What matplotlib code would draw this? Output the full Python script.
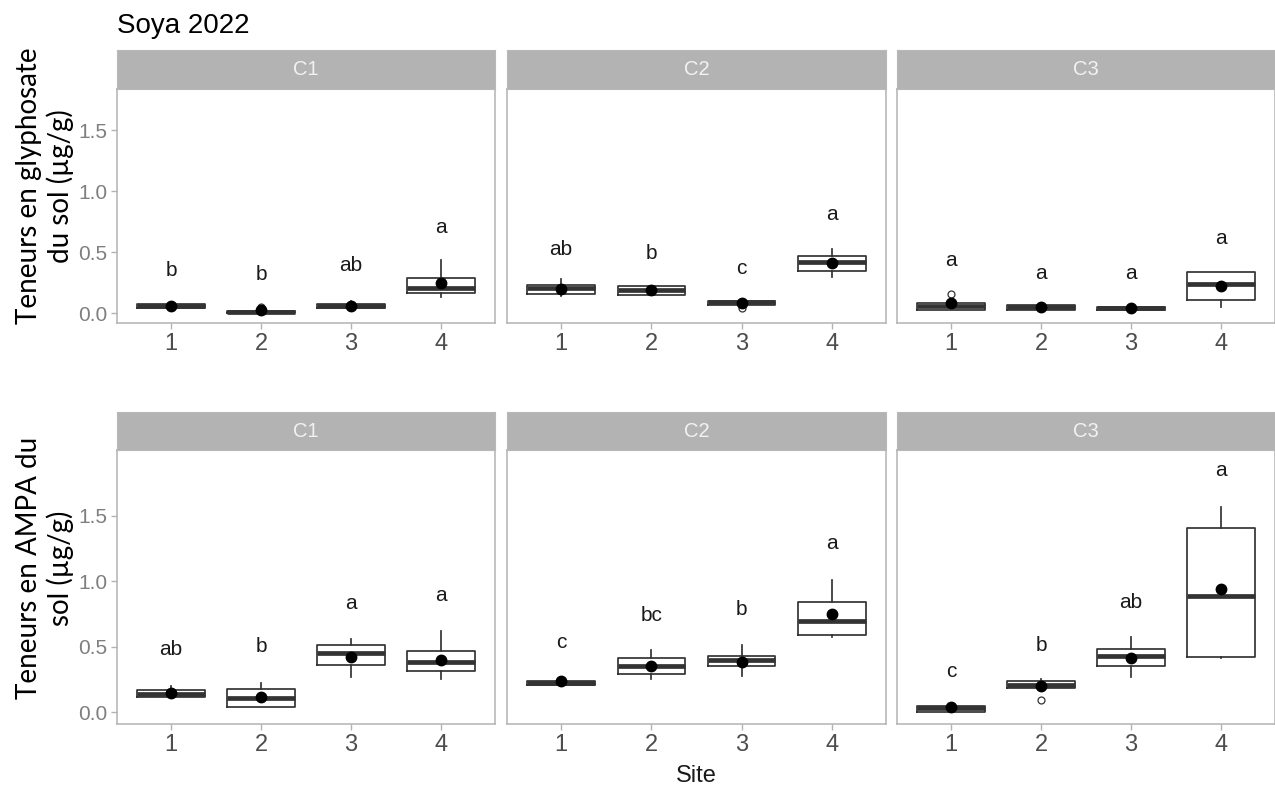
#!/usr/bin/env python3
"""Boxplots glyphosate / AMPA par site et parcelle (Soya 2022)."""
import matplotlib
matplotlib.use("Agg")
import matplotlib.pyplot as plt

plt.rcParams["font.family"] = ["Liberation Sans", "DejaVu Sans"]

sites = [1, 2, 3, 4]
panels = ["C1", "C2", "C3"]

# --- glyphosate (rangée du haut), une liste par parcelle ---
gly_q1   = [[0.04, 0.00, 0.04, 0.17], [0.16, 0.15, 0.07, 0.35], [0.03, 0.025, 0.025, 0.11]]
gly_med  = [[0.06, 0.01, 0.06, 0.21], [0.21, 0.19, 0.09, 0.42], [0.06, 0.05, 0.04, 0.24]]
gly_q3   = [[0.075, 0.02, 0.075, 0.29], [0.23, 0.22, 0.10, 0.47], [0.08, 0.065, 0.055, 0.34]]
gly_wlo  = [[0.04, 0.00, 0.04, 0.13], [0.14, 0.15, 0.07, 0.30], [0.03, 0.025, 0.025, 0.05]]
gly_whi  = [[0.08, 0.02, 0.10, 0.44], [0.28, 0.22, 0.10, 0.53], [0.08, 0.065, 0.055, 0.34]]
gly_mean = [[0.06, 0.03, 0.06, 0.25], [0.20, 0.19, 0.08, 0.41], [0.08, 0.05, 0.04, 0.22]]
gly_out  = [[[], [0.055], [], []], [[], [], [0.04], []], [[0.155], [], [], []]]
gly_let  = [["b", "b", "ab", "a"], ["ab", "b", "c", "a"], ["a", "a", "a", "a"]]
gly_lety = [[0.35, 0.32, 0.39, 0.70], [0.52, 0.49, 0.37, 0.81], [0.43, 0.33, 0.325, 0.61]]

# --- AMPA (rangée du bas) ---
amp_q1   = [[0.114, 0.04, 0.363, 0.318], [0.206, 0.292, 0.35, 0.586], [0.005, 0.183, 0.35, 0.421]]
amp_med  = [[0.14, 0.11, 0.45, 0.38], [0.22, 0.35, 0.396, 0.695], [0.03, 0.21, 0.426, 0.886]]
amp_q3   = [[0.168, 0.18, 0.51, 0.465], [0.238, 0.414, 0.427, 0.84], [0.048, 0.238, 0.485, 1.407]]
amp_wlo  = [[0.114, 0.04, 0.267, 0.257], [0.206, 0.257, 0.276, 0.573], [0.005, 0.183, 0.267, 0.415]]
amp_whi  = [[0.20, 0.226, 0.556, 0.617], [0.238, 0.478, 0.51, 1.01], [0.048, 0.25, 0.57, 1.564]]
amp_mean = [[0.15, 0.117, 0.42, 0.40], [0.238, 0.356, 0.386, 0.746], [0.036, 0.20, 0.41, 0.937]]
amp_out  = [[[], [], [], []], [[], [], [], []], [[], [0.094], [], []]]
amp_let  = [["ab", "b", "a", "a"], ["c", "bc", "b", "a"], ["c", "b", "ab", "a"]]
amp_lety = [[0.48, 0.50, 0.83, 0.89], [0.535, 0.74, 0.78, 1.29], [0.31, 0.51, 0.835, 1.84]]

yticks = [0.0, 0.5, 1.0, 1.5]

W, H = 1275, 790
fig = plt.figure(figsize=(W / 100, H / 100), dpi=100)

def px(x0, y0, x1, y1):
    return [x0 / W, 1 - y1 / H, (x1 - x0) / W, (y1 - y0) / H]

cols_x = [(117, 495), (507, 886), (897, 1275)]
rows = [
    dict(strip=(50, 89), panel=(89, 323), ylim=(-0.08, 1.84),
         q1=gly_q1, med=gly_med, q3=gly_q3, wlo=gly_wlo, whi=gly_whi,
         mean=gly_mean, out=gly_out, let=gly_let, lety=gly_lety),
    dict(strip=(412, 450), panel=(450, 724), ylim=(-0.09, 2.0),
         q1=amp_q1, med=amp_med, q3=amp_q3, wlo=amp_wlo, whi=amp_whi,
         mean=amp_mean, out=amp_out, let=amp_let, lety=amp_lety),
]

border = "#B3B3B3"
for r in rows:
    for j, (x0, x1) in enumerate(cols_x):
        ax = fig.add_axes(px(x0, r["panel"][0], x1, r["panel"][1]))
        stats = []
        for i in range(len(sites)):
            stats.append(dict(med=r["med"][j][i], q1=r["q1"][j][i], q3=r["q3"][j][i],
                              whislo=r["wlo"][j][i], whishi=r["whi"][j][i],
                              fliers=r["out"][j][i], mean=r["mean"][j][i]))
        ax.bxp(stats, positions=sites, widths=0.75, showcaps=False, showmeans=True,
               boxprops=dict(color="#333333", lw=1.25),
               whiskerprops=dict(color="#333333", lw=1.25),
               medianprops=dict(color="#333333", lw=3.4, solid_capstyle="butt"),
               meanprops=dict(marker="o", markerfacecolor="black", markeredgecolor="black",
                              markersize=7.5),
               flierprops=dict(marker="o", markerfacecolor="white", markeredgecolor="#333333",
                               markersize=5, markeredgewidth=0.9))
        for i, s in enumerate(sites):
            ax.text(s, r["lety"][j][i], r["let"][j][i], ha="center", va="center",
                    fontsize=15, color="#1A1A1A")
        ax.set_xlim(0.4, 4.6)
        ax.set_ylim(*r["ylim"])
        ax.set_xticks(sites)
        ax.set_xticklabels([str(s) for s in sites])
        ax.set_yticks(yticks)
        ax.tick_params(axis="both", length=4, width=1, color=border, pad=3)
        ax.tick_params(axis="x", labelsize=17, labelcolor="#4D4D4D")
        if j == 0:
            ax.set_yticklabels([f"{v:.1f}" for v in yticks])
            ax.tick_params(axis="y", labelsize=15, labelcolor="#7F7F7F")
        else:
            ax.tick_params(axis="y", length=0, labelleft=False)
        for sp in ax.spines.values():
            sp.set_color(border)
            sp.set_linewidth(1.1)

        sax = fig.add_axes(px(x0, r["strip"][0], x1, r["strip"][1]))
        sax.set_facecolor("#B3B3B3")
        sax.set_xticks([]); sax.set_yticks([])
        for sp in sax.spines.values():
            sp.set_color("#B8B8B8")
        sax.text(0.5, 0.5, panels[j], ha="center", va="center",
                 fontsize=14.5, color="#F2F2F2", transform=sax.transAxes)

fig.text(117 / W, 1 - 26 / H, "Soya 2022", ha="left", va="center", fontsize=20, color="black")
fig.text(696 / W, 1 - 776 / H, "Site", ha="center", va="center", fontsize=17, color="#1A1A1A")
fig.text(45 / W, 1 - 186 / H, "Teneurs en glyphosate\ndu sol (µg/g)", rotation=90,
         ha="center", va="center", multialignment="center", fontsize=20,
         family=["Lato", "DejaVu Sans"], linespacing=1.2)
fig.text(45 / W, 1 - 568 / H, "Teneurs en AMPA du\nsol (µg/g)", rotation=90,
         ha="center", va="center", multialignment="center", fontsize=20,
         family=["Lato", "DejaVu Sans"], linespacing=1.2)

fig.savefig("out.png", dpi=100)
